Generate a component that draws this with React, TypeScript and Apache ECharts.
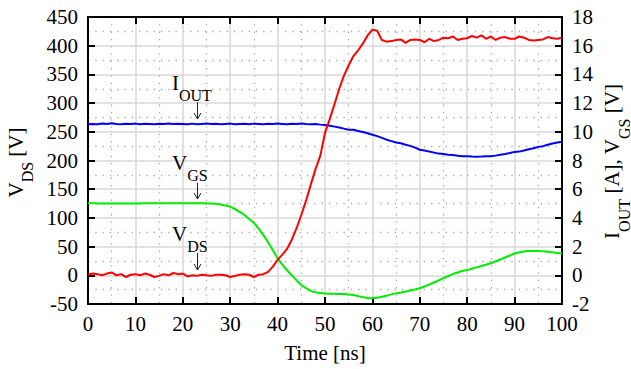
import React, { useEffect, useRef } from "react";
import * as echarts from "echarts";

// sampled every 1 ns
const times = Array.from({ length: 101 }, (_, i) => i);

// V_DS [V] (left axis)
const vds = [
  1, 3, 2, 0, 3, 5, 0, 2, -3, 1,
  2, 0, 3, 1, -3, -1, 2, 0, 4, 2,
  3, -2, 0, -1, 1, 0, -1, 1, 1, 0,
  -3, -1, 1, 2, 1, -3, 1, 2, 6, 15,
  27, 36, 46, 62, 82, 105, 130, 158, 185, 208,
  248, 272, 298, 325, 348, 366, 382, 392, 404, 418,
  428, 426, 410, 407, 408, 410, 411, 405, 410, 411,
  410, 406, 412, 408, 410, 414, 413, 416, 410, 412,
  413, 417, 414, 418, 412, 416, 410, 414, 415, 412,
  412, 416, 414, 410, 409, 410, 411, 415, 413, 412,
  414,
];

// I_OUT [A] (right axis)
const iout = [
  10.52, 10.55, 10.53, 10.58, 10.55, 10.6, 10.54, 10.52, 10.56, 10.55,
  10.57, 10.53, 10.56, 10.55, 10.52, 10.56, 10.55, 10.58, 10.54, 10.56,
  10.55, 10.53, 10.57, 10.52, 10.55, 10.58, 10.54, 10.56, 10.53, 10.55,
  10.57, 10.52, 10.55, 10.56, 10.53, 10.57, 10.55, 10.53, 10.56, 10.54,
  10.57, 10.55, 10.52, 10.56, 10.55, 10.57, 10.54, 10.52, 10.55, 10.5,
  10.48, 10.42, 10.36, 10.3, 10.22, 10.15, 10.14, 10.06, 9.98, 9.9,
  9.8, 9.7, 9.58, 9.45, 9.35, 9.25, 9.2, 9.1, 9.02, 8.9,
  8.75, 8.7, 8.62, 8.55, 8.48, 8.45, 8.4, 8.38, 8.33, 8.3,
  8.3, 8.28, 8.27, 8.28, 8.3, 8.3, 8.34, 8.4, 8.45, 8.52,
  8.6, 8.62, 8.7, 8.78, 8.85, 8.95, 9.0, 9.1, 9.18, 9.25,
  9.3,
];

// V_GS [V] (right axis)
const vgs = [
  5.02, 5.02, 5.01, 5.01, 5.01, 5.0, 5.0, 5.0, 5.01, 5.01,
  5.01, 5.01, 5.02, 5.02, 5.02, 5.02, 5.02, 5.02, 5.02, 5.02,
  5.02, 5.02, 5.02, 5.02, 5.02, 5.01, 5.0, 4.98, 4.93, 4.86,
  4.78, 4.62, 4.42, 4.2, 3.93, 3.64, 3.25, 2.8, 2.3, 1.75,
  1.2, 0.75, 0.35, 0.0, -0.35, -0.68, -0.9, -1.08, -1.18, -1.24,
  -1.27, -1.28, -1.29, -1.3, -1.31, -1.33, -1.38, -1.45, -1.52, -1.58,
  -1.6, -1.57, -1.5, -1.42, -1.33, -1.26, -1.2, -1.13, -1.06, -0.98,
  -0.9, -0.78, -0.64, -0.5, -0.35, -0.2, -0.06, 0.08, 0.2, 0.3,
  0.37, 0.46, 0.55, 0.65, 0.74, 0.84, 0.97, 1.1, 1.24, 1.38,
  1.52, 1.6, 1.66, 1.7, 1.7, 1.69, 1.67, 1.64, 1.6, 1.56,
  1.53,
];

const xLabel = "Time [ns]";
const leftName = "{m|V}{s|DS}{m| [V]}";
const rightName = "{m|I}{s|OUT}{m| [A], V}{s|GS}{m| [V]}";
const annotations = [
  { text: "{m|I}{s|OUT}", x: 172, y: 83, arrowTop: 102, arrowEnd: 119 },
  { text: "{m|V}{s|GS}", x: 172, y: 163, arrowTop: 183, arrowEnd: 199 },
  { text: "{m|V}{s|DS}", x: 172, y: 234, arrowTop: 253, arrowEnd: 270 },
];

const FONT = "Liberation Serif";

const rich = {
  m: { fontFamily: FONT, fontSize: 21, lineHeight: 21, color: "#000" },
  s: { fontFamily: FONT, fontSize: 16, lineHeight: 10, color: "#000", padding: [24, 0, 0, 0] },
};

export default function App() {
  const ref = useRef<HTMLDivElement>(null);
  useEffect(() => {
    if (!ref.current) return;
    const chart = echarts.init(ref.current, null, { renderer: "svg" });
    const axisLine = { show: true, onZero: false, lineStyle: { color: "#000", width: 2 } };
    const axisTick = { show: true, inside: true, length: 7, lineStyle: { color: "#000", width: 2 } };
    const splitLine = { show: true, lineStyle: { color: "#d9d9d9", width: 1.5 } };
    const minorSplitLine = { show: true, lineStyle: { color: "#a8a8a8", width: 1.3, type: [1.3, 6] } };
    const label = { color: "#000", fontFamily: FONT, fontSize: 21 };
    const arrowX = 197.5;
    const graphic: any[] = [];
    annotations.forEach((a) => {
      graphic.push({
        type: "text",
        style: { text: a.text, rich, x: a.x, y: a.y, align: "left", verticalAlign: "middle" },
        z: 100,
      });
      graphic.push({
        type: "line",
        shape: { x1: arrowX, y1: a.arrowTop, x2: arrowX, y2: a.arrowEnd },
        style: { stroke: "#222", lineWidth: 1 },
        z: 100,
      });
      graphic.push({
        type: "polyline",
        shape: { points: [[arrowX - 3.5, a.arrowEnd - 6], [arrowX, a.arrowEnd], [arrowX + 3.5, a.arrowEnd - 6]] },
        style: { stroke: "#222", lineWidth: 1, fill: "none" },
        z: 100,
      });
    });
    graphic.push({
      type: "text",
      x: 15.5,
      y: 162.5,
      rotation: Math.PI / 2,
      style: { text: leftName, rich, x: 0, y: 0, align: "center", verticalAlign: "middle" },
    });
    graphic.push({
      type: "text",
      x: 612,
      y: 161.5,
      rotation: Math.PI / 2,
      style: { text: rightName, rich, x: 0, y: 0, align: "center", verticalAlign: "middle" },
    });

    chart.setOption({
      animation: false,
      backgroundColor: "#fff",
      grid: { left: 88, right: 69, top: 17, bottom: 65, containLabel: false },
      xAxis: [
        {
          type: "value",
          min: 0,
          max: 100,
          interval: 10,
          axisLine,
          axisTick,
          axisLabel: { ...label, margin: 9 },
          splitLine,
          minorTick: { show: false, splitNumber: 2 },
          minorSplitLine,
          name: xLabel,
          nameLocation: "middle",
          nameGap: 38,
          nameTextStyle: { ...label },
        },
        {
          type: "value",
          position: "top",
          min: 0,
          max: 100,
          interval: 10,
          axisLine,
          axisTick,
          axisLabel: { show: false },
          splitLine: { show: false },
        },
      ],
      yAxis: [
        {
          type: "value",
          position: "left",
          min: -50,
          max: 450,
          interval: 50,
          axisLine,
          axisTick,
          axisLabel: { ...label, margin: 10 },
          splitLine,
          minorTick: { show: false, splitNumber: 2 },
          minorSplitLine,
        },
        {
          type: "value",
          position: "right",
          min: -2,
          max: 18,
          interval: 2,
          axisLine,
          axisTick,
          axisLabel: { ...label, margin: 10 },
          splitLine: { show: false },
        },
      ],
      graphic,
      series: [
        {
          type: "line",
          yAxisIndex: 1,
          data: times.map((t, i) => [t, iout[i]]),
          showSymbol: false,
          symbol: "none",
          lineStyle: { color: "#0000ff", width: 2 },
          z: 3,
        },
        {
          type: "line",
          yAxisIndex: 1,
          data: times.map((t, i) => [t, vgs[i]]),
          showSymbol: false,
          symbol: "none",
          smooth: 0.3,
          lineStyle: { color: "#00ee00", width: 2 },
          z: 4,
        },
        {
          type: "line",
          yAxisIndex: 0,
          data: times.map((t, i) => [t, vds[i]]),
          showSymbol: false,
          symbol: "none",
          lineStyle: { color: "#ff0000", width: 2 },
          z: 5,
        },
      ],
    });
    return () => chart.dispose();
  }, []);
  return (
    <div
      ref={ref}
      style={{ position: "fixed", left: 0, top: 0, width: 631, height: 369, background: "#fff" }}
    />
  );
}
